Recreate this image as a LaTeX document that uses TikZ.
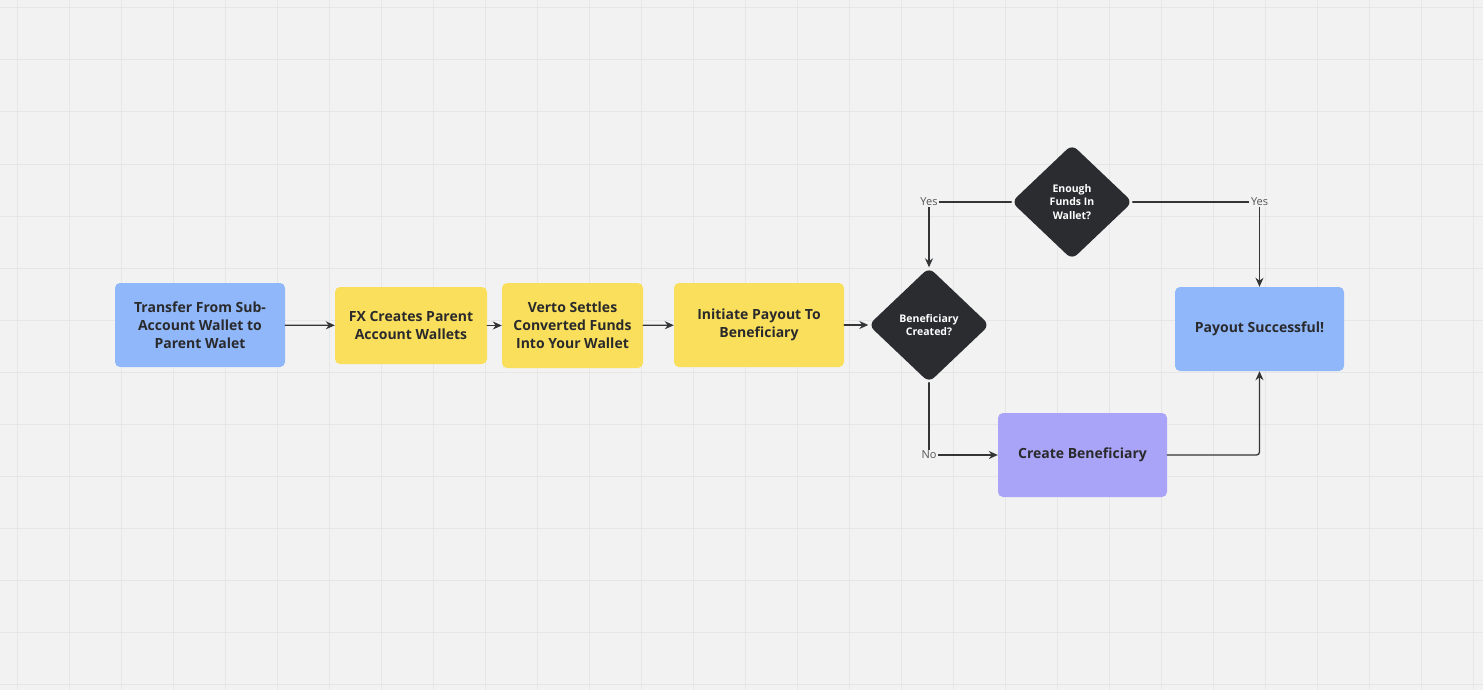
\documentclass[tikz,border=0pt]{standalone}
\usepackage{fontspec}
\setmainfont{Open Sans}
\usetikzlibrary{arrows.meta,shapes.geometric}
\definecolor{BgGray}{HTML}{F2F2F2}
\definecolor{GridGray}{HTML}{E6E6E6}
\definecolor{BlueStep}{HTML}{8FB7FA}
\definecolor{YellowStep}{HTML}{F9DF5B}
\definecolor{PurpleStep}{HTML}{A9A4F8}
\definecolor{DarkDecision}{HTML}{2B2C30}
\definecolor{InkDark}{HTML}{2A2A2C}
\definecolor{LineDark}{HTML}{333436}
\definecolor{LabelGray}{HTML}{555555}

\begin{document}
\begin{tikzpicture}[
  x=1pt, y=-1pt,
  line cap=round, line join=round,
  >={Stealth[length=9pt,width=8pt]},
  stepbox/.style={rectangle, rounded corners=5pt, align=center, inner sep=0pt,
    text=InkDark, font=\bfseries\fontsize{14}{18}\selectfont},
  decision/.style={diamond, fill=DarkDecision, text=white, rounded corners=7pt,
    minimum width=121pt, minimum height=115pt, align=center, inner sep=0pt,
    font=\bfseries\fontsize{10.5}{13.5}\selectfont},
  flow/.style={draw=LineDark, line width=1.3pt, ->},
  lbl/.style={fill=BgGray, text=LabelGray, inner sep=1.5pt,
    font=\fontsize{11}{13}\selectfont}
]

% Background
\useasboundingbox (0,0) rectangle (1483,690);
\fill[BgGray] (0,0) rectangle (1483,690);

% === Board grid ===
\foreach \x in {17,69,...,1483} {
  \draw[GridGray, line width=1pt] (\x,0) -- (\x,690);
}
\foreach \y in {8,60,...,690} {
  \draw[GridGray, line width=1pt] (0,\y) -- (1483,\y);
}

% === Main row of steps ===
\node[stepbox, fill=BlueStep, minimum width=170pt, minimum height=84pt]
  (transfer) at (200,325) {Transfer From Sub-\\Account Wallet to\\Parent Walet};
\node[stepbox, fill=YellowStep, minimum width=152pt, minimum height=77pt]
  (fxcreate) at (411,325.5) {FX Creates Parent\\Account Wallets};
\node[stepbox, fill=YellowStep, minimum width=141pt, minimum height=85pt]
  (settle) at (572.5,325.5) {Verto Settles\\Converted Funds\\Into Your Wallet};
\node[stepbox, fill=YellowStep, minimum width=170pt, minimum height=84pt]
  (initiate) at (759,325) {Initiate Payout To\\Beneficiary};

% === Decisions ===
\node[decision] (benefq) at (929,325) {Beneficiary\\Created?};
\node[decision] (fundsq) at (1072,202) {Enough\\Funds In\\Wallet?};

% === Outcomes ===
\node[stepbox, fill=BlueStep, minimum width=169pt, minimum height=84pt]
  (success) at (1259.5,329) {Payout Successful!};
\node[stepbox, fill=PurpleStep, minimum width=169pt, minimum height=84pt]
  (createben) at (1082.5,455) {Create Beneficiary};

% === Connectors ===
\draw[flow] (transfer) -- (fxcreate);
\draw[flow] (fxcreate) -- (settle);
\draw[flow] (settle) -- (initiate);
\draw[flow] (initiate) -- (benefq);
\draw[flow] (fundsq.west) -| (benefq.north) node[lbl, pos=0.5] {Yes};
\draw[flow] (fundsq.east) -| (success.north) node[lbl, pos=0.5] {Yes};
\draw[flow] (benefq.south) |- (createben.west) node[lbl, pos=0.5] {No};
\draw[flow, rounded corners=3pt] (createben.east) -| (success.south);

\end{tikzpicture}
\end{document}
